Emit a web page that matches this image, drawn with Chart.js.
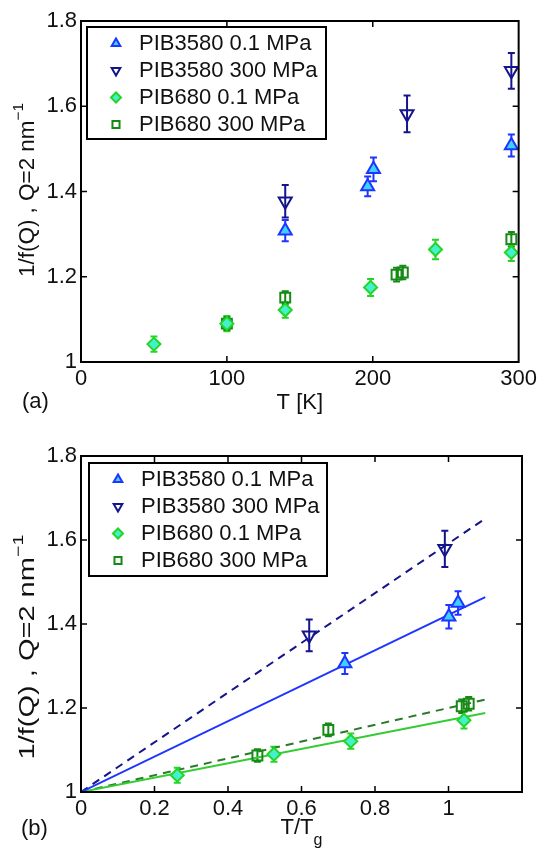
<!DOCTYPE html>
<html>
<head>
<meta charset="utf-8">
<script src="https://cdn.jsdelivr.net/npm/chart.js@4.4.1/dist/chart.umd.min.js"></script>
<style>
  html, body { margin: 0; padding: 0; background: #fff; }
  canvas { position: absolute; left: 0; }
  #panelA { top: 0; }
  #panelB { top: 420px; }
</style>
</head>
<body>
<canvas id="panelA" width="541" height="420"></canvas>
<canvas id="panelB" width="541" height="428"></canvas>
<script>
const FONT = '"Liberation Sans", Arial, Helvetica, sans-serif';

const seriesNames = ['PIB3580 0.1 MPa', 'PIB3580 300 MPa', 'PIB680 0.1 MPa', 'PIB680 300 MPa'];

// panel (a): 1/f(Q) against T [K]
const tA1 = [140, 196.5, 200.5, 295];
const qA1 = [1.308, 1.412, 1.452, 1.508];
const eA1 = [0.025, 0.023, 0.028, 0.026];
const tA2 = [140, 223.5, 295];
const qA2 = [1.377, 1.582, 1.683];
const eA2 = [0.038, 0.043, 0.042];
const tA3 = [50, 100, 140, 198.5, 243, 295];
const qA3 = [1.042, 1.09, 1.122, 1.175, 1.264, 1.257];
const eA3 = [0.018, 0.018, 0.018, 0.02, 0.023, 0.02];
const tA4 = [100, 140, 216.3, 220.6, 295];
const qA4 = [1.09, 1.151, 1.205, 1.21, 1.288];
const eA4 = [0.015, 0.015, 0.016, 0.016, 0.017];

// panel (b): 1/f(Q) against T/Tg, with linear fits through (0,1)
const xB1 = [0.718, 1.001, 1.026];
const qB1 = [1.306, 1.417, 1.45];
const eB1 = [0.025, 0.028, 0.028];
const xB2 = [0.621, 0.99];
const qB2 = [1.373, 1.579];
const eB2 = [0.038, 0.043];
const xB3 = [0.262, 0.525, 0.734, 1.042];
const qB3 = [1.04, 1.09, 1.121, 1.171];
const eB3 = [0.018, 0.018, 0.018, 0.02];
const xB4 = [0.48, 0.673, 1.036, 1.055];
const qB4 = [1.087, 1.148, 1.204, 1.21];
const eB4 = [0.015, 0.015, 0.016, 0.016];
const fitX = [0, 1.1];
const fitB1 = [1, 1.464];
const fitB2 = [1, 1.651];
const fitB3 = [1, 1.188];
const fitB4 = [1, 1.22];

// tick labels
const yTicks = [1, 1.2, 1.4, 1.6, 1.8];
const xTicksA = [0, 100, 200, 300];
const xTicksB = [0, 0.2, 0.4, 0.6, 0.8, 1];

const styles = [
  { color: '#1f35ff', fill: '#40d0ff', shape: 'triangle', rot: 0, r: 7.5 },
  { color: '#14148c', fill: 'rgba(255,255,255,0)', shape: 'triangle', rot: 180, r: 7.5 },
  { color: '#25d525', fill: '#45f0cf', shape: 'rectRot', rot: 0, r: 6.5 },
  { color: '#158a15', fill: 'rgba(255,255,255,0)', shape: 'rect', rot: 0, r: 7 }
];

function pts(xs, ys) {
  return xs.map((x, i) => ({ x: x, y: ys[i] }));
}

function markerSet(k, xs, ys, es) {
  const s = styles[k];
  return {
    label: seriesNames[k],
    data: pts(xs, ys),
    errs: es,
    inLegend: true,
    showLine: false,
    pointStyle: s.shape,
    pointRotation: s.rot,
    pointRadius: s.r,
    pointBorderWidth: 2,
    borderColor: s.color,
    backgroundColor: s.fill,
    pointBorderColor: s.color,
    pointBackgroundColor: s.fill
  };
}

function fitSet(color, ys, dash) {
  return {
    data: pts(fitX, ys),
    showLine: true,
    borderColor: color,
    borderWidth: 2,
    borderDash: dash,
    pointRadius: 0,
    fill: false
  };
}

function fmt(v) {
  return String(Math.round(v * 10) / 10);
}

// error bars, box with inward ticks, legend box and the axis texts
const decor = {
  id: 'decor',
  beforeDatasetsDraw(chart) {
    const ctx = chart.ctx;
    const ys = chart.scales.y;
    ctx.save();
    ctx.lineWidth = 2;
    chart.data.datasets.forEach((d, i) => {
      if (!d.errs) return;
      const meta = chart.getDatasetMeta(i);
      ctx.strokeStyle = d.borderColor;
      d.data.forEach((p, j) => {
        const x = meta.data[j].x;
        const y1 = ys.getPixelForValue(p.y + d.errs[j]);
        const y2 = ys.getPixelForValue(p.y - d.errs[j]);
        ctx.beginPath();
        ctx.moveTo(x, y1); ctx.lineTo(x, y2);
        ctx.moveTo(x - 3.5, y1); ctx.lineTo(x + 3.5, y1);
        ctx.moveTo(x - 3.5, y2); ctx.lineTo(x + 3.5, y2);
        ctx.stroke();
      });
    });
    ctx.restore();
  },
  afterDraw(chart, args, o) {
    const ctx = chart.ctx;
    const ca = chart.chartArea;
    const xs = chart.scales.x, ys = chart.scales.y;
    ctx.save();
    ctx.strokeStyle = '#000';
    ctx.lineWidth = 2;
    ctx.strokeRect(ca.left, ca.top, ca.right - ca.left, ca.bottom - ca.top);
    ctx.lineWidth = 1.5;
    const L = 6;
    ctx.beginPath();
    xs.ticks.forEach(t => {
      const p = xs.getPixelForValue(t.value);
      if (p <= ca.left + 1 || p >= ca.right - 1) return;
      ctx.moveTo(p, ca.bottom); ctx.lineTo(p, ca.bottom - L);
      ctx.moveTo(p, ca.top); ctx.lineTo(p, ca.top + L);
    });
    ys.ticks.forEach(t => {
      const p = ys.getPixelForValue(t.value);
      if (p <= ca.top + 1 || p >= ca.bottom - 1) return;
      ctx.moveTo(ca.left, p); ctx.lineTo(ca.left + L, p);
      ctx.moveTo(ca.right, p); ctx.lineTo(ca.right - L, p);
    });
    ctx.stroke();

    // legend
    const bx = ca.left + o.legend.dx, by = ca.top + o.legend.dy;
    ctx.fillStyle = '#fff';
    ctx.fillRect(bx, by, o.legend.w, o.legend.h);
    ctx.lineWidth = 2;
    ctx.strokeRect(bx, by, o.legend.w, o.legend.h);
    ctx.font = '22px ' + FONT;
    ctx.textBaseline = 'middle';
    ctx.textAlign = 'left';
    chart.data.datasets.filter(d => d.inLegend).forEach((d, i) => {
      const y = by + 16.5 + i * 27;
      ctx.strokeStyle = d.pointBorderColor;
      ctx.fillStyle = d.pointBackgroundColor;
      Chart.helpers.drawPoint(ctx, {
        pointStyle: d.pointStyle, rotation: d.pointRotation, radius: 5, borderWidth: 2
      }, bx + 29, y);
      ctx.fillStyle = '#111';
      ctx.fillText(d.label, bx + 52, y);
    });

    ctx.fillStyle = '#111';
    // panel tag
    ctx.fillText(o.tag.text, o.tag.x, o.tag.y);

    // x title (optional subscript)
    const xt = o.xTitle;
    ctx.font = '22px ' + FONT;
    const w1 = ctx.measureText(xt.text).width;
    ctx.font = '16px ' + FONT;
    const w2 = xt.sub ? ctx.measureText(xt.sub).width : 0;
    let x0 = (ca.left + ca.right) / 2 - (w1 + w2) / 2;
    ctx.font = '22px ' + FONT;
    ctx.fillText(xt.text, x0, xt.y);
    if (xt.sub) {
      ctx.font = '16px ' + FONT;
      ctx.fillText(xt.sub, x0 + w1, xt.y + 13);
    }

    // y title with superscript, rotated
    const yt = o.yTitle;
    ctx.font = '22px ' + FONT;
    const m1 = ctx.measureText(yt.text).width;
    ctx.font = '15px ' + FONT;
    const m2 = ctx.measureText(yt.sup).width;
    const s = yt.len / (m1 + m2);
    ctx.translate(yt.x, yt.y);
    ctx.rotate(-Math.PI / 2);
    ctx.scale(s, 1);
    ctx.font = '22px ' + FONT;
    ctx.fillText(yt.text, -(m1 + m2) / 2, 0);
    ctx.font = '15px ' + FONT;
    ctx.fillText(yt.sup, -(m1 + m2) / 2 + m1, -9);
    ctx.restore();
  }
};

function makePanel(id, datasets, xMax, xTicks, pad, axisH, deco) {
  return new Chart(document.getElementById(id), {
    type: 'scatter',
    data: { datasets: datasets },
    plugins: [decor],
    options: {
      responsive: false,
      animation: false,
      devicePixelRatio: 1,
      layout: { padding: pad },
      scales: {
        x: {
          type: 'linear', min: 0, max: xMax,
          afterBuildTicks: sc => { sc.ticks = xTicks.map(v => ({ value: v })); },
          afterFit: sc => { sc.height = axisH; },
          grid: { display: false, drawTicks: false },
          border: { display: false },
          ticks: {
            autoSkip: false, maxRotation: 0, padding: 4, color: '#111',
            font: { family: FONT, size: 22 },
            callback: v => fmt(v)
          }
        },
        y: {
          type: 'linear', min: 1, max: 1.8,
          afterBuildTicks: sc => { sc.ticks = yTicks.map(v => ({ value: v })); },
          afterFit: sc => { sc.width = 81; },
          grid: { display: false, drawTicks: false },
          border: { display: false },
          ticks: {
            padding: 4, color: '#111',
            font: { family: FONT, size: 22 },
            callback: v => fmt(v)
          }
        }
      },
      plugins: {
        legend: { display: false },
        tooltip: { enabled: false },
        decor: deco
      }
    }
  });
}

makePanel('panelA', [
  markerSet(0, tA1, qA1, eA1),
  markerSet(1, tA2, qA2, eA2),
  markerSet(2, tA3, qA3, eA3),
  markerSet(3, tA4, qA4, eA4)
], 300, xTicksA, { left: 0, right: 20, top: 21, bottom: 0 }, 58, {
  legend: { dx: 6, dy: 6, w: 239, h: 112 },
  tag: { text: '(a)', x: 22, y: 402 },
  xTitle: { text: 'T [K]', y: 403 },
  yTitle: { text: '1/f(Q) , Q=2 nm', sup: '\u22121', x: 27.5, y: 190, len: 174 }
});

makePanel('panelB', [
  markerSet(0, xB1, qB1, eB1),
  markerSet(1, xB2, qB2, eB2),
  markerSet(2, xB3, qB3, eB3),
  markerSet(3, xB4, qB4, eB4),
  fitSet('#1f35ff', fitB1, []),
  fitSet('#14148c', fitB2, [8, 6]),
  fitSet('#33cc33', fitB3, []),
  fitSet('#2a7a2a', fitB4, [8, 6])
], 1.2, xTicksB, { left: 0, right: 19, top: 36, bottom: 0 }, 56, {
  legend: { dx: 8, dy: 7, w: 238, h: 113 },
  tag: { text: '(b)', x: 21, y: 409 },
  xTitle: { text: 'T/T', sub: 'g', y: 408 },
  yTitle: { text: '1/f(Q) , Q=2 nm', sup: '\u22121', x: 27.5, y: 227, len: 225 }
});
</script>
</body>
</html>
